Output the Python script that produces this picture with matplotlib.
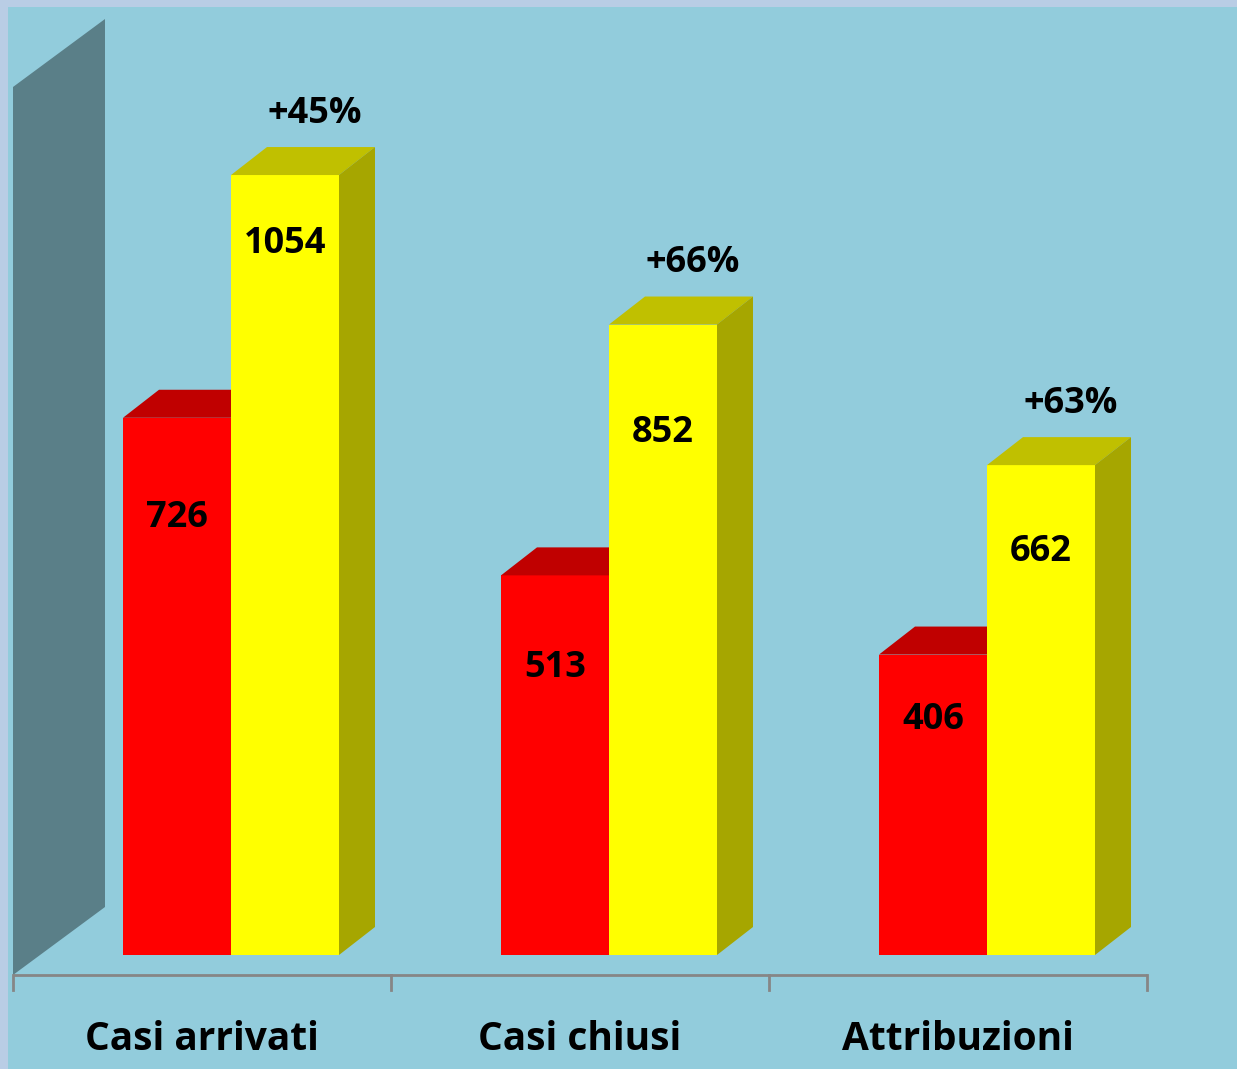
import matplotlib
matplotlib.use("Agg")
import matplotlib.pyplot as plt
from matplotlib.patches import Polygon, Rectangle

# data
categories = ["Casi arrivati", "Casi chiusi", "Attribuzioni"]
before = [726, 513, 406]
after = [1054, 852, 662]

# layout (not data): where the value labels sit on the front faces
before_label_v = [590, 388, 318]
after_label_v = [961, 706, 544]

RED, RED_TOP = "#FF0000", "#C00000"
YEL, YEL_TOP, YEL_SIDE = "#FFFF00", "#C0C000", "#A6A600"
WALL = "#5A7F88"
BG = "#92CCDC"
BORDER = "#B9CDE5"
FONT = ["Open Sans", "DejaVu Sans"]

BAR_W = 108 / 378
DX, DY = 36 / 378, 28 / 0.74       # depth vector of a bar
FX, FY = -29 / 378, -20 / 0.74     # floor front edge offset from bar plane
BX, BY = 63 / 378, 48 / 0.74       # floor back edge offset from bar plane
YMAX = 1200


def box(ax, x0, x1, v, front, top, side=None):
    ax.add_patch(Polygon([(x0, 0), (x1, 0), (x1, v), (x0, v)], closed=True,
                         facecolor=front, edgecolor="none", zorder=3))
    ax.add_patch(Polygon([(x0, v), (x1, v), (x1 + DX, v + DY), (x0 + DX, v + DY)],
                         closed=True, facecolor=top, edgecolor="none", zorder=3))
    if side:
        ax.add_patch(Polygon([(x1, 0), (x1, v), (x1 + DX, v + DY), (x1 + DX, DY)],
                             closed=True, facecolor=side, edgecolor="none", zorder=3))


fig = plt.figure(figsize=(12.37, 10.69), dpi=100)
fig.patch.set_facecolor(BORDER)
ax = fig.add_axes([0, 0, 1, 1])
ax.set_facecolor(BORDER)
ax.add_patch(Rectangle((8 / 1237, 0), 1, 1 - 7 / 1069, transform=ax.transAxes,
                       facecolor=BG, edgecolor="none", zorder=0))
ax.set_xlim(-231 / 378, (1237 - 231) / 378)
ax.set_ylim((955 - 1069) / 0.74, 955 / 0.74)
ax.set_xticks([])
ax.set_yticks([])
for s in ax.spines.values():
    s.set_visible(False)

# side wall
ax.add_patch(Polygon([(-0.5 + FX, FY), (-0.5 + FX, YMAX + FY),
                      (-0.5 + BX, YMAX + BY), (-0.5 + BX, BY)],
                     closed=True, facecolor=WALL, edgecolor="none", zorder=1))

# floor front edge and ticks
n = len(categories)
ax.plot([-0.5 + FX, n - 0.5 + FX], [FY, FY], color="#868686", lw=2, zorder=2,
        solid_capstyle="butt")
for i in range(n + 1):
    ax.plot([i - 0.5 + FX] * 2, [FY, FY - 20], color="#868686", lw=2, zorder=2)

for i, (r, y) in enumerate(zip(before, after)):
    box(ax, i - BAR_W, i, r, RED, RED_TOP)
    box(ax, i, i + BAR_W, y, YEL, YEL_TOP, YEL_SIDE)
    ax.text(i - BAR_W / 2, before_label_v[i], str(r), ha="center", va="center",
            fontsize=26, fontweight="bold", family=FONT, zorder=4)
    ax.text(i + BAR_W / 2, after_label_v[i], str(y), ha="center", va="center",
            fontsize=26, fontweight="bold", family=FONT, zorder=4)
    pct = round(100 * (y - r) / r)
    ax.text(i + BAR_W / 2 + 0.83 * DX, y + DY + 45, f"+{pct}%", ha="center", va="center",
            fontsize=26, fontweight="bold", family=FONT, zorder=4)
    ax.text(i + FX, -114, categories[i], ha="center", va="center",
            fontsize=28, fontweight="bold", family=FONT, zorder=4)

fig.savefig("out.png", dpi=100, facecolor=fig.get_facecolor())
